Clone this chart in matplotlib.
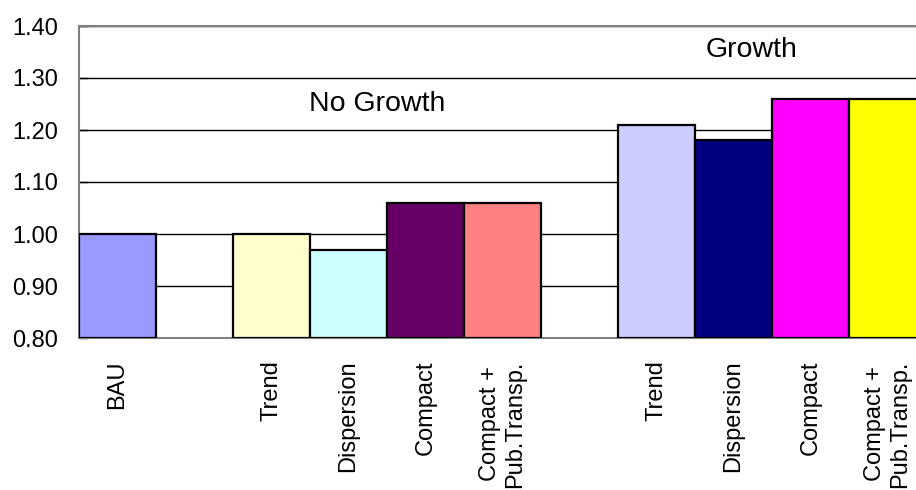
import matplotlib
matplotlib.use("Agg")
import matplotlib.pyplot as plt

plt.rcParams['font.family'] = ['Liberation Sans', 'DejaVu Sans']

categories = ["BAU", "", "Trend", "Dispersion", "Compact", "Compact +\nPub.Transp.",
              "", "Trend", "Dispersion", "Compact", "Compact +\nPub.Transp."]
values = [1.00, None, 1.00, 0.97, 1.06, 1.06, None, 1.21, 1.18, 1.26, 1.26]
colors = ["#9999FF", None, "#FFFFCC", "#CCFFFF", "#660066", "#FF8080",
          None, "#CCCCFF", "#000080", "#FF00FF", "#FFFF00"]
yticks = [0.80, 0.90, 1.00, 1.10, 1.20, 1.30, 1.40]
group_labels = ["No Growth", "Growth"]
group_label_pos = [(3.37, 1.25), (8.24, 1.354)]

fig = plt.figure(figsize=(9.16, 4.90), dpi=100)
ax = fig.add_axes([79/916, 152/490, 847/916, 312/490])

base = 0.80
for i, (v, c) in enumerate(zip(values, colors)):
    if v is None:
        continue
    ax.bar(i, v - base, bottom=base, width=1.0, color=c, edgecolor="black",
           linewidth=1.6, zorder=3)

ax.set_xlim(-0.5, len(categories) - 0.5)
ax.set_ylim(0.80, 1.40)
ax.set_yticks(yticks)
ax.set_yticklabels([f"{t:.2f}" for t in yticks], fontsize=17)
ax.set_xticks(range(len(categories)))
ax.set_xticklabels(categories, rotation=90, fontsize=17, ha="center", va="top",
                   multialignment="center")
ax.tick_params(axis="x", length=0, pad=16)
ax.tick_params(axis="y", direction="in", length=6.5, width=1, color="black", pad=15)

ax.yaxis.grid(True, color="black", linewidth=1.0, zorder=1)
ax.set_axisbelow(True)
for side in ["left", "top", "bottom"]:
    ax.spines[side].set_color("#808080")
    ax.spines[side].set_linewidth(1.5)
ax.spines["right"].set_visible(False)

for lbl, (x, y) in zip(group_labels, group_label_pos):
    ax.text(x, y, lbl, fontsize=20.5, ha="center", va="center", zorder=4)

fig.savefig("out.png", dpi=100)
